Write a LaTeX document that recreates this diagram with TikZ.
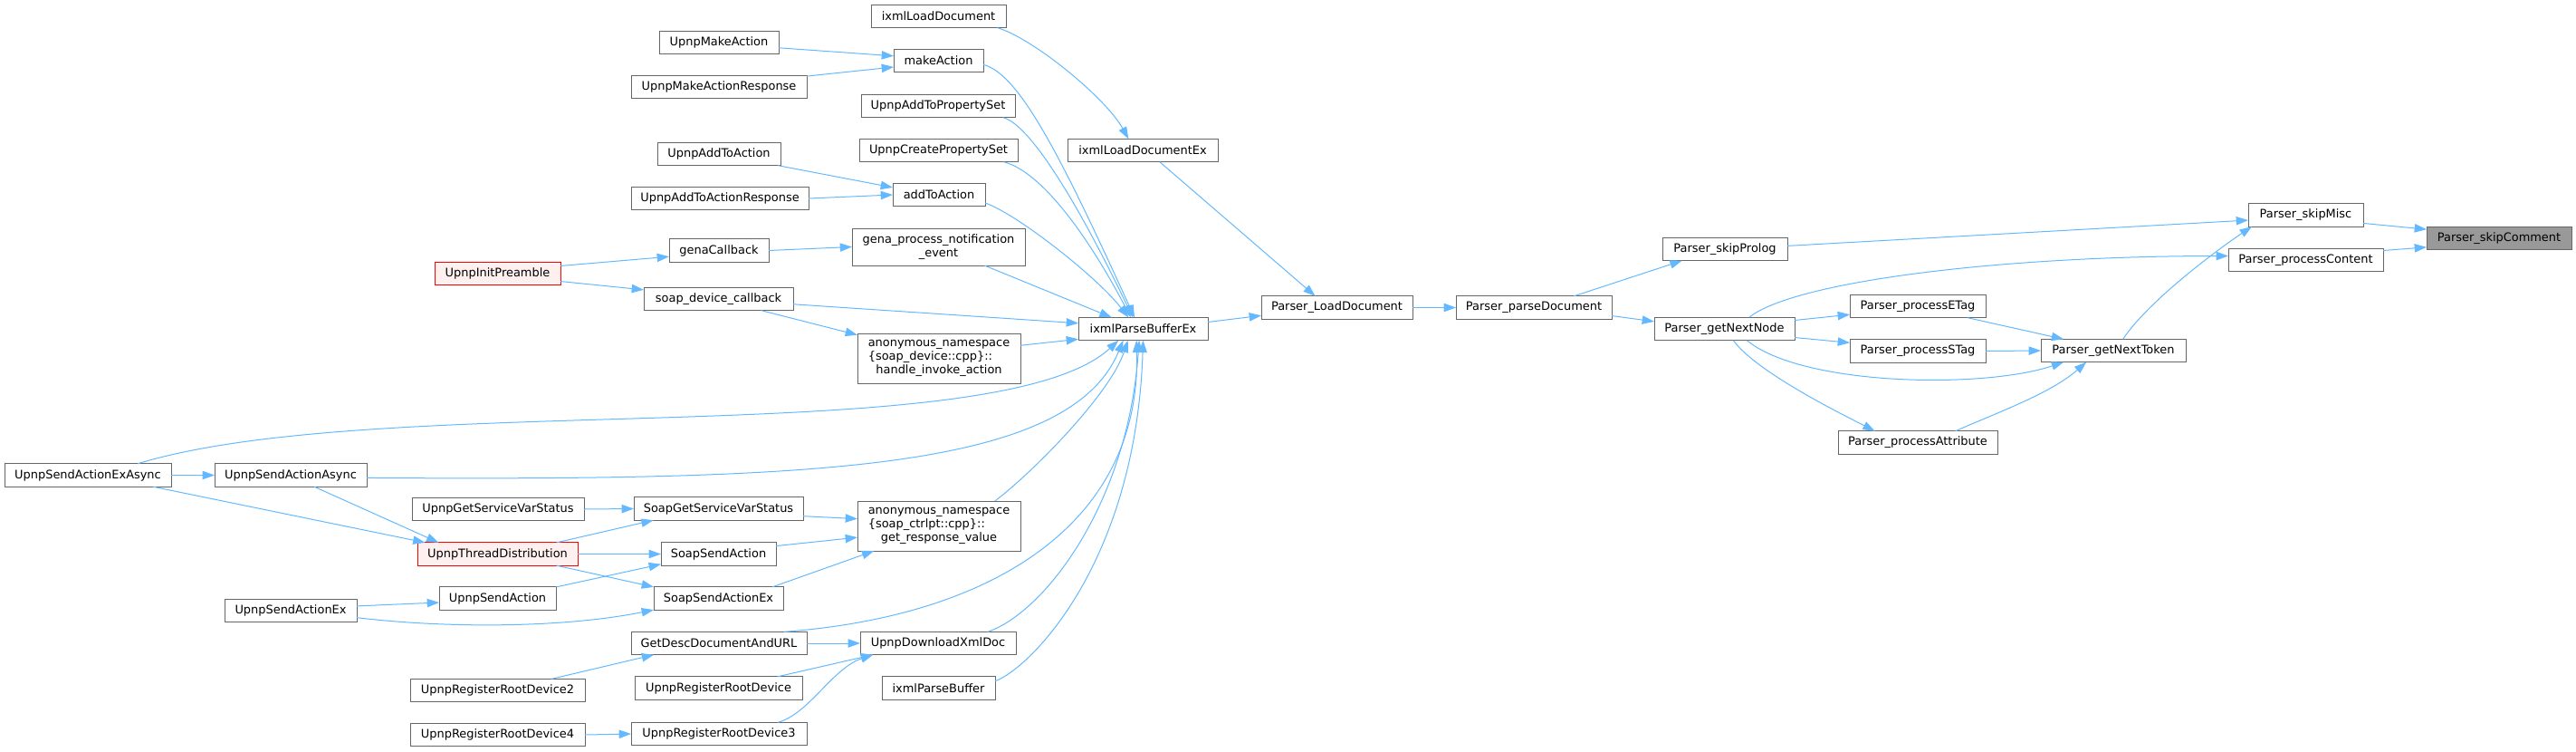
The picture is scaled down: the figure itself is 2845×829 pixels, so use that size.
\documentclass[tikz,border=0pt]{standalone}
\usepackage{fontspec}
\setmainfont{DejaVu Sans}
\usetikzlibrary{arrows.meta}
\definecolor{edgeblue}{HTML}{63B8FF}
\definecolor{boxgray}{HTML}{666666}
\definecolor{rootgray}{HTML}{999999}
\definecolor{hotfill}{HTML}{FFF0F0}

\begin{document}
\begin{tikzpicture}[x=0.75pt, y=-0.75pt, >={Triangle[length=10pt,width=7pt]},
    fn/.style={draw=boxgray, fill=white, line width=0.75pt, minimum height=19pt,
        inner sep=0pt, outer sep=0pt, align=center, font=\fontsize{9.7}{11}\selectfont},
    hot/.style={fn, draw=red, fill=hotfill},
    root/.style={fn, fill=rootgray},
    call/.style={->, draw=edgeblue, line width=0.75pt}]
    \useasboundingbox (0,0) rectangle (2845,829);

    % Parser functions (right side)
    \node[root, minimum width=120pt] (skipComment) at (2760,263) {Parser\_skipComment};
    \node[fn, minimum width=95.25pt] (skipMisc) at (2546.5,237.5) {Parser\_skipMisc};
    \node[fn, minimum width=128.25pt] (processContent) at (2546.5,287) {Parser\_processContent};
    \node[fn, minimum width=120pt] (getNextToken) at (2334,387) {Parser\_getNextToken};
    \node[fn, minimum width=112.5pt] (processETag) at (2118,338) {Parser\_processETag};
    \node[fn, minimum width=112.5pt] (processSTag) at (2118,387.5) {Parser\_processSTag};
    \node[fn, minimum width=132pt] (processAttribute) at (2118,488.5) {Parser\_processAttribute};
    \node[fn, minimum width=103.5pt] (skipProlog) at (1905,275) {Parser\_skipProlog};
    \node[fn, minimum width=116.25pt] (getNextNode) at (1904.5,363) {Parser\_getNextNode};
    \node[fn, minimum width=129pt] (parseDocument) at (1694,339.5) {Parser\_parseDocument};
    \node[fn, minimum width=125.25pt] (loadDocument) at (1476.5,339.5) {Parser\_LoadDocument};

    % ixml entry points
    \node[fn, minimum width=107.25pt] (parseBufferEx) at (1262.5,363) {ixmlParseBufferEx};
    \node[fn, minimum width=124.5pt] (loadDocumentEx) at (1262,166) {ixmlLoadDocumentEx};
    \node[fn, minimum width=111.75pt] (loadDocumentIxml) at (1036.5,18) {ixmlLoadDocument};

    % middle column
    \node[fn, minimum width=74.25pt] (makeAction) at (1036.5,67) {makeAction};
    \node[fn, minimum width=127.5pt] (addToPropertySet) at (1036,117) {UpnpAddToPropertySet};
    \node[fn, minimum width=131.25pt] (createPropertySet) at (1036.5,166) {UpnpCreatePropertySet};
    \node[fn, minimum width=76.5pt] (addToAction) at (1037,215) {addToAction};
    \node[fn, minimum width=143.25pt, minimum height=30.75pt] (genaNotify) at (1036.5,272.5)
        {gena\_process\_notification\\\_event};
    \node[fn, minimum width=135pt, minimum height=41.25pt] (handleInvoke) at (1037,395.5)
        {anonymous\_namespace\\\rlap{\{soap\_device::cpp\}::}\phantom{anonymous\_namespace}\\handle\_invoke\_action};
    \node[fn, minimum width=135pt, minimum height=41.25pt] (getResponseValue) at (1037,580.5)
        {anonymous\_namespace\\\rlap{\{soap\_ctrlpt::cpp\}::}\phantom{anonymous\_namespace}\\get\_response\_value};
    \node[fn, minimum width=129pt] (downloadXmlDoc) at (1036,710) {UpnpDownloadXmlDoc};
    \node[fn, minimum width=93.75pt] (parseBuffer) at (1036.5,759.5) {ixmlParseBuffer};

    % second column
    \node[fn, minimum width=99pt] (upnpMakeAction) at (794,47) {UpnpMakeAction};
    \node[fn, minimum width=145.5pt] (makeActionResponse) at (794,96) {UpnpMakeActionResponse};
    \node[fn, minimum width=102pt] (upnpAddToAction) at (794,170) {UpnpAddToAction};
    \node[fn, minimum width=147pt] (addToActionResponse) at (795,219) {UpnpAddToActionResponse};
    \node[fn, minimum width=82.5pt] (genaCallback) at (794,276.5) {genaCallback};
    \node[fn, minimum width=123.75pt] (soapDeviceCallback) at (793.5,330) {soap\_device\_callback};
    \node[fn, minimum width=140.25pt] (soapGetServiceVarStatus) at (793.5,561.5) {SoapGetServiceVarStatus};
    \node[fn, minimum width=95.25pt] (soapSendAction) at (793.5,611.5) {SoapSendAction};
    \node[fn, minimum width=107.25pt] (soapSendActionEx) at (793.5,660.5) {SoapSendActionEx};
    \node[fn, minimum width=145.5pt] (descDocument) at (794,710) {GetDescDocumentAndURL};
    \node[fn, minimum width=138.75pt] (registerRootDevice) at (793.5,759.5) {UpnpRegisterRootDevice};
    \node[fn, minimum width=145.5pt] (registerRootDevice3) at (794,810) {UpnpRegisterRootDevice3};

    % third column
    \node[hot, minimum width=104.25pt] (initPreamble) at (549.5,302) {UpnpInitPreamble};
    \node[fn, minimum width=142.5pt] (getServiceVarStatus) at (550,562) {UpnpGetServiceVarStatus};
    \node[hot, minimum width=132.75pt] (threadDistribution) at (549.5,611.5) {UpnpThreadDistribution};
    \node[fn, minimum width=96.75pt] (upnpSendAction) at (549.5,660.5) {UpnpSendAction};
    \node[fn, minimum width=144.75pt] (registerRootDevice2) at (549.5,762) {UpnpRegisterRootDevice2};
    \node[fn, minimum width=144.75pt] (registerRootDevice4) at (549.5,811) {UpnpRegisterRootDevice4};

    % left columns
    \node[fn, minimum width=138pt] (sendActionExAsync) at (97,524.5) {UpnpSendActionExAsync};
    \node[fn, minimum width=126pt] (sendActionAsync) at (321,524.5) {UpnpSendActionAsync};
    \node[fn, minimum width=109.5pt] (sendActionEx) at (321,674) {UpnpSendActionEx};

    % calls into the parser
    \draw[call] (skipMisc.-8) -- (skipComment.173);
    \draw[call] (processContent.7) -- (skipComment.187);
    \draw[call] (skipProlog.3) -- (skipMisc.185);
    \draw[call] (getNextToken.50) .. controls +(30,-45) and +(-30,20) .. (skipMisc.-168);
    \draw[call] (getNextNode.25) .. controls +(50,-40) and +(-250,0) .. (processContent.177);
    \draw[call] (getNextNode.7) -- (processETag.-173);
    \draw[call] (getNextNode.-7) -- (processSTag.173);
    \draw[call] (getNextNode.-27) .. controls +(60,50) and +(-90,30) .. (getNextToken.-167);
    \draw[call] (getNextNode.-52) .. controls +(25,35) and +(-35,-18) .. (processAttribute.165);
    \draw[call] (processETag.-13) -- (getNextToken.167);
    \draw[call] (processSTag.east) -- (getNextToken.west);
    \draw[call] (processAttribute.17) .. controls +(45,-20) and +(-40,35) .. (getNextToken.-157);
    \draw[call] (parseDocument.16) -- (skipProlog.-165);
    \draw[call] (parseDocument.-6) -- (getNextNode.174);
    \draw[call] (loadDocument.east) -- (parseDocument.west);
    \draw[call] (loadDocumentEx.-34) -- (loadDocument.152);
    \draw[call] (parseBufferEx.6) -- (loadDocument.-174);
    \draw[call] (loadDocumentIxml.-11) .. controls +(40,12) and +(-25,-45) .. (loadDocumentEx.141);

    % calls into ixmlParseBufferEx
    \draw[call] (makeAction.-5) .. controls +(40,10) and +(-80,-175) .. (parseBufferEx.127);
    \draw[call] (addToPropertySet.-10) .. controls +(30,8) and +(-60,-125) .. (parseBufferEx.132);
    \draw[call] (createPropertySet.-10) .. controls +(40,10) and +(-50,-95) .. (parseBufferEx.137);
    \draw[call] (addToAction.-10) .. controls +(35,12) and +(-35,-45) .. (parseBufferEx.142);
    \draw[call] (genaNotify.-22) -- (parseBufferEx.160);
    \draw[call] (soapDeviceCallback.-4) -- (parseBufferEx.175);
    \draw[call] (handleInvoke.9) -- (parseBufferEx.-171);
    \draw[call] (sendActionExAsync.13) .. controls +(268,-82) and +(-135,124) .. (parseBufferEx.-155);
    \draw[call] (sendActionAsync.-2) .. controls +(495,3) and +(-60,144) .. (parseBufferEx.-150);
    \draw[call] (getResponseValue.24) .. controls +(40,-30) and +(-20,60) .. (parseBufferEx.-143);
    \draw[call] (descDocument.10) .. controls +(228,-17) and +(5,204) .. (parseBufferEx.-120);
    \draw[call] (downloadXmlDoc.13) .. controls +(60,-20) and +(-13,184) .. (parseBufferEx.-109);
    \draw[call] (parseBuffer.7) .. controls +(40,-15) and +(-8,244) .. (parseBufferEx.south);

    % upnp api calls
    \draw[call] (upnpMakeAction.-5) -- (makeAction.174);
    \draw[call] (makeActionResponse.7) -- (makeAction.-172);
    \draw[call] (upnpAddToAction.-11) -- (addToAction.171);
    \draw[call] (addToActionResponse.east) -- (addToAction.west);
    \draw[call] (initPreamble.7) -- (genaCallback.-173);
    \draw[call] (initPreamble.-7) -- (soapDeviceCallback.173);
    \draw[call] (genaCallback.east) -- (genaNotify.west);
    \draw[call] (soapDeviceCallback.-15) -- (handleInvoke.164);
    \draw[call] (sendActionExAsync.east) -- (sendActionAsync.west);
    \draw[call] (sendActionExAsync.-10) -- (threadDistribution.171);
    \draw[call] (sendActionAsync.-26) -- (threadDistribution.169);
    \draw[call] (getServiceVarStatus.east) -- (soapGetServiceVarStatus.west);
    \draw[call] (threadDistribution.11) -- (soapGetServiceVarStatus.-170);
    \draw[call] (threadDistribution.east) -- (soapSendAction.west);
    \draw[call] (threadDistribution.-11) -- (soapSendActionEx.170);
    \draw[call] (upnpSendAction.11) -- (soapSendAction.-170);
    \draw[call] (sendActionEx.4) -- (upnpSendAction.-176);
    \draw[call] (sendActionEx.-6) .. controls +(100,12) and +(-100,20) .. (soapSendActionEx.-170);
    \draw[call] (soapGetServiceVarStatus.-5) -- (getResponseValue.175);
    \draw[call] (soapSendAction.8) -- (getResponseValue.-172);
    \draw[call] (soapSendActionEx.12) -- (getResponseValue.-159);
    \draw[call] (descDocument.east) -- (downloadXmlDoc.west);
    \draw[call] (registerRootDevice2.12) -- (descDocument.-170);
    \draw[call] (registerRootDevice.11) -- (downloadXmlDoc.-170);
    \draw[call] (registerRootDevice3.11) .. controls +(35,-10) and +(-45,15) .. (downloadXmlDoc.-170);
    \draw[call] (registerRootDevice4.east) -- (registerRootDevice3.west);
\end{tikzpicture}
\end{document}
